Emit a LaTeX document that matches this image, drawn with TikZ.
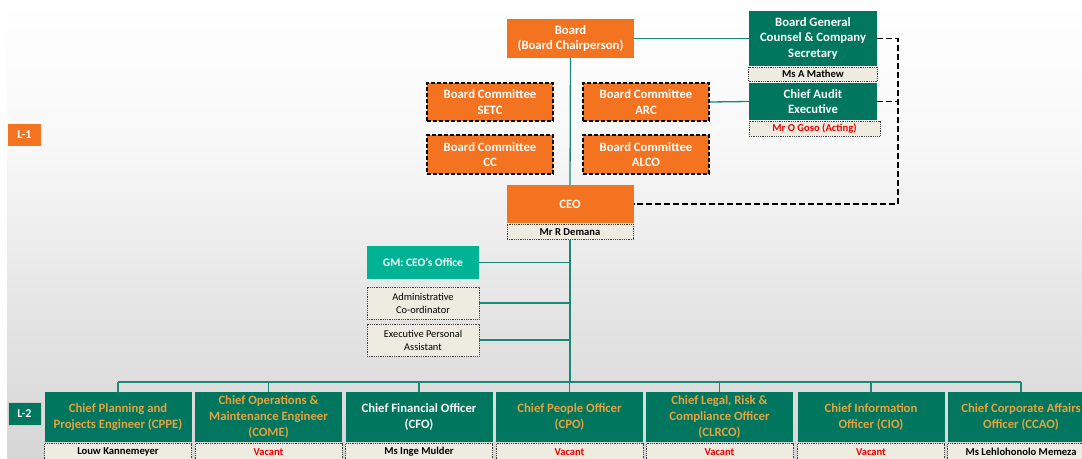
\documentclass[tikz,border=0pt]{standalone}
\usepackage{fontspec}
\setmainfont{Carlito}
\definecolor{corange}{HTML}{F37321}
\definecolor{cgreen}{HTML}{00765F}
\definecolor{cteal}{HTML}{00B395}
\definecolor{cgold}{HTML}{E5A33F}
\definecolor{cstrip}{HTML}{EEECE1}
\definecolor{cline}{HTML}{168A74}
\definecolor{cred}{HTML}{F00000}
\tikzset{
  tfont/.style={font=\bfseries\fontsize{12.7}{15.5}\selectfont},
  obox/.style={fill=corange, text=white, tfont, align=center, inner sep=0pt},
  cbox/.style={obox, draw=black, dash pattern=on 4pt off 2pt, line width=1.1pt, minimum width=126pt, minimum height=38pt},
  gbox/.style={fill=cgreen, text=white, tfont, align=center, inner sep=0pt},
  lbox/.style={gbox, minimum width=147pt, minimum height=50pt, font=\bfseries\fontsize{12.7}{16}\selectfont},
  strip/.style={fill=cstrip, draw=black!75, densely dotted, line width=0.8pt, font=\bfseries\fontsize{10.6}{12}\selectfont, inner sep=0pt, minimum height=15pt, anchor=north},
  sbox/.style={fill=cstrip, draw=black!75, densely dotted, line width=0.8pt, font=\fontsize{10.4}{13}\selectfont, align=center, inner sep=0pt, minimum width=112pt, minimum height=32pt},
  gline/.style={draw=cline, line width=1.3pt},
  dline/.style={draw=black, line width=1.2pt, dash pattern=on 6pt off 3pt},
  lvl/.style={inner sep=0pt, text=white, font=\bfseries\fontsize{12}{13}\selectfont},
}
\begin{document}
\begin{tikzpicture}[x=1pt,y=-1pt]
\useasboundingbox (0,0) rectangle (1082,458);
\clip (0,0) rectangle (1082,458);
% background
\fill[white] (0,0) rectangle (1082,458);
\shade[top color=white, bottom color=black!3] (7,0) rectangle (1082,150);
\shade[top color=black!3, bottom color=black!10] (7,150) rectangle (1082,300);
\shade[top color=black!10, bottom color=black!16] (7,300) rectangle (1082,458);

% level labels
\node[lvl, fill=corange, minimum width=33pt, minimum height=22pt] (l1) at (24.5,135) {L-1};
\node[lvl, fill=cgreen, draw=black!20, line width=0.5pt, minimum width=33pt, minimum height=23pt] (l2) at (24.5,413.5) {L-2};

% top
\node[obox, minimum width=127pt, minimum height=39pt] (board) at (570.5,38.5) {Board\\(Board Chairperson)};
\node[gbox, minimum width=128pt, minimum height=55pt] (bgc) at (813,38.5) {Board General\\Counsel \& Company\\Secretary};
\node[strip, minimum width=129pt, minimum height=14pt, yshift=-0.5pt] (bgcn) at (bgc.south) {Ms A Mathew};
\node[gbox, minimum width=128pt, minimum height=37pt] (audit) at (813,101.5) {Chief Audit\\Executive};
\node[strip, minimum width=131pt, text=cred, xshift=1.5pt, yshift=-0.5pt] (auditn) at (audit.south) {Mr O Goso (Acting)};

\node[cbox] (setc) at (490,102) {Board Committee\\SETC};
\node[cbox] (arc) at (646,102) {Board Committee\\ARC};
\node[cbox, minimum height=39pt] (cc) at (490,154.5) {Board Committee\\CC};
\node[cbox, minimum height=39pt] (alco) at (646,154.5) {Board Committee\\ALCO};

\node[obox, minimum width=127pt, minimum height=38pt] (ceo) at (570,204) {CEO};
\node[strip, minimum width=126pt, yshift=-0.5pt] (ceon) at (ceo.south) {Mr R Demana};

\node[fill=cteal, text=white, inner sep=0pt, minimum width=112pt, minimum height=33pt, font=\bfseries\fontsize{11.5}{13}\selectfont] (gm) at (423,262.5) {GM: CEO’s Office};
\node[sbox] (admin) at (423,303) {Administrative\\Co-ordinator};
\node[sbox] (epa) at (423,340) {Executive Personal\\Assistant};

% connectors top
\draw[gline] (board.east) -- (bgc.west);
\draw[gline] (arc.east) -- (audit.west);
\draw[gline] (board.south) -- (ceo.north);
\coordinate (bus) at (570,382);
\draw[gline] (ceon.south) -- (bus);
\draw[gline] (gm.east) -- (gm.east -| bus);
\draw[gline] (admin.east) -- (admin.east -| bus);
\draw[gline] (epa.east) -- (epa.east -| bus);
\coordinate (dx) at (898,0);
\draw[dline] (bgc.east) -- (bgc.east -| dx) |- (ceo.east);
\draw[dline] (audit.east) -- (audit.east -| dx);

% level 2
\node[lbox, text=cgold] (cppe) at (118,417) {Chief Planning and\\Projects Engineer (CPPE)};
\node[lbox, text=cgold] (come) at (268.5,417) {Chief Operations \&\\Maintenance Engineer\\(COME)};
\node[lbox] (cfo) at (419,417) {Chief Financial Officer\\(CFO)};
\node[lbox, text=cgold] (cpo) at (569.5,417) {Chief People Officer\\(CPO)};
\node[lbox, text=cgold] (clrco) at (719.5,417) {Chief Legal, Risk \&\\Compliance Officer\\(CLRCO)};
\node[lbox, text=cgold] (cio) at (871,417) {Chief Information\\Officer (CIO)};
\node[lbox, text=cgold] (ccao) at (1021,417) {Chief Corporate Affairs\\Officer (CCAO)};

\node[strip, minimum width=147pt, minimum height=17pt, yshift=-1pt] (cppen) at (cppe.south) {Louw Kannemeyer};
\node[strip, minimum width=147pt, minimum height=17pt, yshift=-1pt, text=cred] (comen) at (come.south) {Vacant};
\node[strip, minimum width=147pt, minimum height=17pt, yshift=-1pt] (cfon) at (cfo.south) {Ms Inge Mulder};
\node[strip, minimum width=147pt, minimum height=17pt, yshift=-1pt, text=cred] (cpon) at (cpo.south) {Vacant};
\node[strip, minimum width=147pt, minimum height=17pt, yshift=-1pt, text=cred] (clrcon) at (clrco.south) {Vacant};
\node[strip, minimum width=147pt, minimum height=17pt, yshift=-1pt, text=cred] (cion) at (cio.south) {Vacant};
\node[strip, minimum width=147pt, minimum height=17pt, yshift=-1pt] (ccaon) at (ccao.south) {Ms Lehlohonolo Memeza};

\draw[gline] (bus -| cppe.north) -- (bus -| ccao.north);
\foreach \n in {cppe,come,cfo,cpo,clrco,cio,ccao}
  \draw[gline] (bus -| \n.north) -- (\n.north);
\end{tikzpicture}
\end{document}
